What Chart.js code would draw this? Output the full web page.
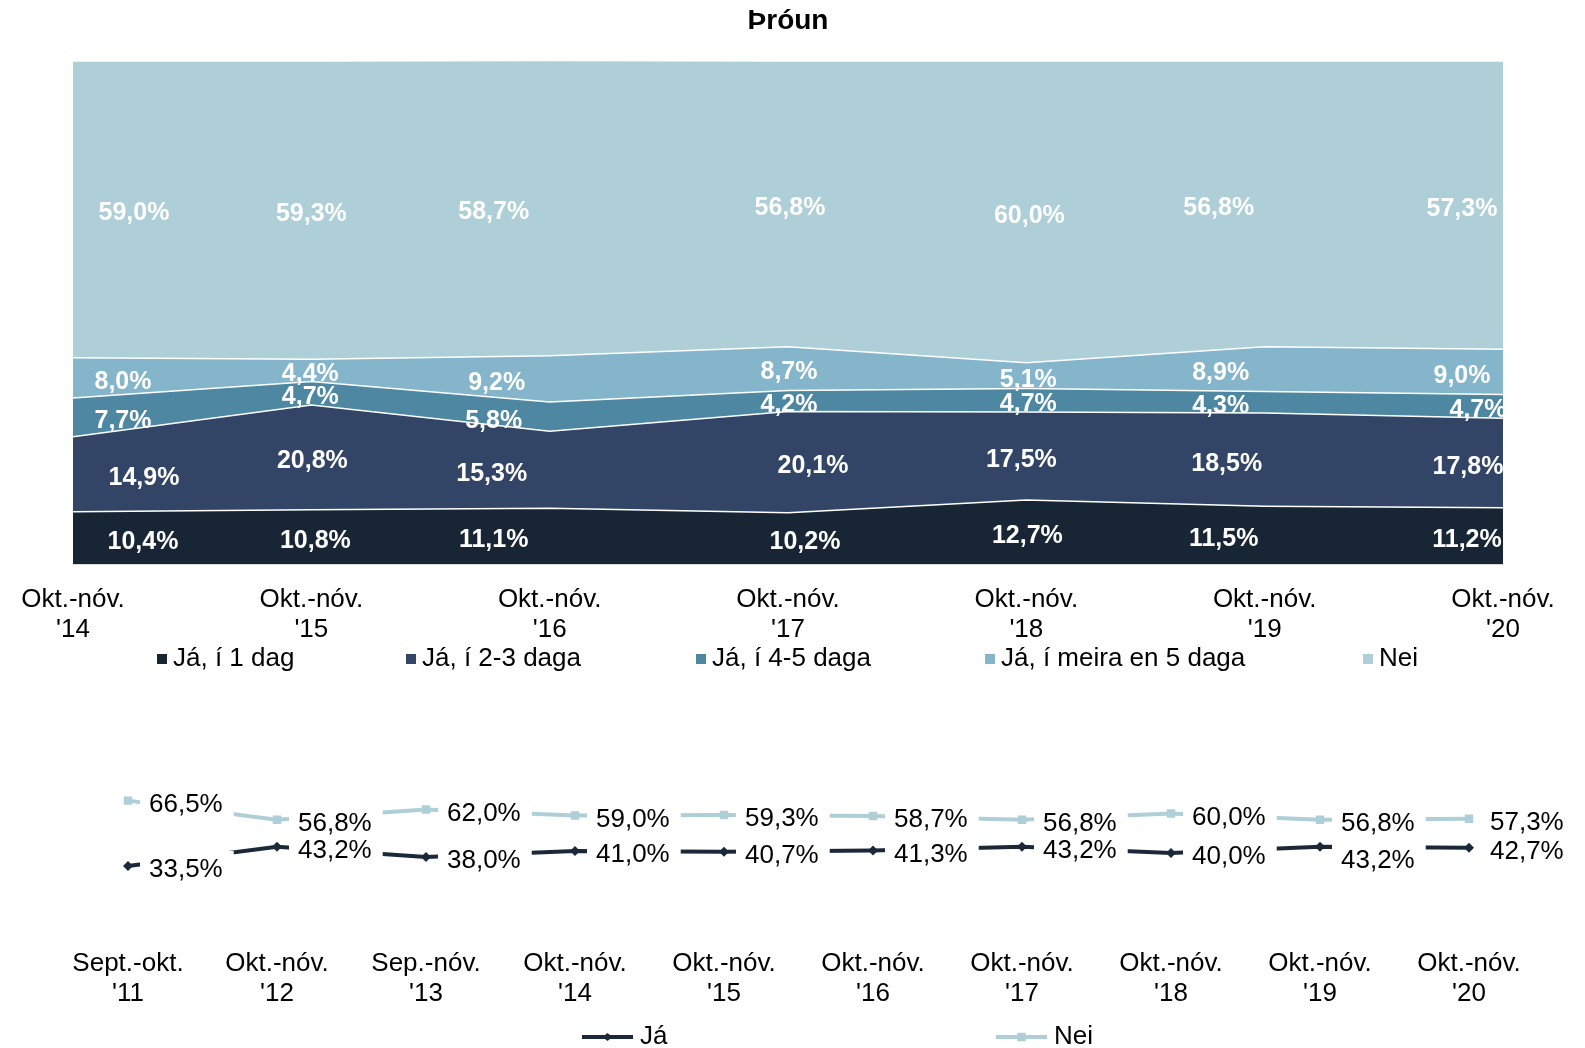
<!DOCTYPE html>
<html>
<head>
<meta charset="utf-8">
<script src="https://cdn.jsdelivr.net/npm/chart.js@4.4.0/dist/chart.umd.min.js"></script>
<style>
  html, body { margin: 0; padding: 0; background: #ffffff; }
  #wrap { position: relative; width: 1585px; height: 1048px; overflow: hidden; }
  #c1 { position: absolute; left: 0; top: 0; }
  #c2 { position: absolute; left: 0; top: 700px; }
</style>
</head>
<body>
<div id="wrap">
  <canvas id="c1" width="1585" height="700"></canvas>
  <canvas id="c2" width="1585" height="348"></canvas>
</div>
<script>
// ---------- DATA: top stacked area chart ----------
const topCategories = [
  ["Okt.-nóv.", "'14"], ["Okt.-nóv.", "'15"], ["Okt.-nóv.", "'16"], ["Okt.-nóv.", "'17"],
  ["Okt.-nóv.", "'18"], ["Okt.-nóv.", "'19"], ["Okt.-nóv.", "'20"]
];
const topSeriesNames = ["Já, í 1 dag", "Já, í 2-3 daga", "Já, í 4-5 daga", "Já, í meira en 5 daga", "Nei"];
const ja1Dag    = [10.4, 10.8, 11.1, 10.2, 12.7, 11.5, 11.2];
const ja23Daga  = [14.9, 20.8, 15.3, 20.1, 17.5, 18.5, 17.8];
const ja45Daga  = [7.7, 4.7, 5.8, 4.2, 4.7, 4.3, 4.7];
const jaMeira5  = [8.0, 4.4, 9.2, 8.7, 5.1, 8.9, 9.0];
const neiTop    = [59.0, 59.3, 58.7, 56.8, 60.0, 56.8, 57.3];

// ---------- DATA: bottom line chart ----------
const lineCategories = [
  ["Sept.-okt.", "'11"], ["Okt.-nóv.", "'12"], ["Sep.-nóv.", "'13"], ["Okt.-nóv.", "'14"],
  ["Okt.-nóv.", "'15"], ["Okt.-nóv.", "'16"], ["Okt.-nóv.", "'17"], ["Okt.-nóv.", "'18"],
  ["Okt.-nóv.", "'19"], ["Okt.-nóv.", "'20"]
];
const lineSeriesNames = ["Já", "Nei"];
const jaLine  = [33.5, 43.2, 38.0, 41.0, 40.7, 41.3, 43.2, 40.0, 43.2, 42.7];
const neiLine = [66.5, 56.8, 62.0, 59.0, 59.3, 58.7, 56.8, 60.0, 56.8, 57.3];

// ---------- STYLES ----------
const FONT = "'Liberation Sans', Arial, sans-serif";
const topColors = ["#172534", "#324566", "#4d87a1", "#84b5cb", "#aecfd8"];
const jaColor = "#1a2839";
const neiColor = "#aecfd8";
// horizontal label offsets (px) in the area chart, per series / category
const topLabelDX = [
  [70, 4, -56, 17, 1, -41, -36],
  [71, 1, -58, 25, -5, -38, -35],
  [50, -1, -56, 1, 2, -44, -25],
  [50, -1, -53, 1, 2, -44, -41],
  [61, 0, -56, 2, 3, -46, -41]
];
const topLegendX = [157, 406, 696, 985, 1363];
const lineLabelDY = [[0, 0, 0, 0, 0, 0, 0, 0, 10, 0], [0, 0, 0, 0, 0, 0, 0, 0, 0, 0]];
const lineLegendX = [582, 996];

Chart.defaults.font.family = FONT;
Chart.defaults.color = "#000";

const fmt = v => v.toFixed(1).replace('.', ',') + '%';

// ---------- plugins ----------
const topLabels = {
  id: 'topLabels',
  afterDatasetsDraw(chart) {
    const ctx = chart.ctx, a = chart.chartArea;
    ctx.save();
    ctx.beginPath();
    ctx.rect(a.left, a.top, a.right - a.left, a.bottom - a.top);
    ctx.clip();
    ctx.font = "bold 25px " + FONT;
    ctx.fillStyle = "#ffffff";
    ctx.textAlign = "center";
    ctx.textBaseline = "middle";
    chart.data.datasets.forEach((ds, i) => {
      const meta = chart.getDatasetMeta(i);
      const prev = i > 0 ? chart.getDatasetMeta(i - 1) : null;
      meta.data.forEach((pt, j) => {
        const yBot = prev ? prev.data[j].y : a.bottom;
        ctx.fillText(fmt(ds.data[j]), pt.x + topLabelDX[i][j], (pt.y + yBot) / 2 + 4);
      });
    });
    ctx.restore();
  }
};

const topLegend = {
  id: 'topLegend',
  afterDraw(chart) {
    const ctx = chart.ctx;
    ctx.save();
    ctx.font = "26px " + FONT;
    ctx.textBaseline = "middle";
    ctx.textAlign = "left";
    chart.data.datasets.forEach((ds, i) => {
      const x = topLegendX[i], y = 659;
      ctx.fillStyle = ds.backgroundColor;
      ctx.fillRect(x, y - 5, 10, 10);
      ctx.fillStyle = "#000";
      ctx.fillText(ds.label, x + 16, y);
    });
    ctx.restore();
  }
};

function drawMarker(ctx, style, x, y, r, color) {
  ctx.fillStyle = color;
  ctx.beginPath();
  if (style === 'rectRot') {
    ctx.moveTo(x - r, y); ctx.lineTo(x, y - r * 0.8); ctx.lineTo(x + r, y); ctx.lineTo(x, y + r * 0.8);
  } else {
    const s = r * Math.SQRT1_2;
    ctx.rect(x - s, y - s, 2 * s, 2 * s);
  }
  ctx.closePath();
  ctx.fill();
}

const lineLabels = {
  id: 'lineLabels',
  afterDatasetsDraw(chart) {
    const ctx = chart.ctx;
    ctx.save();
    ctx.font = "26px " + FONT;
    ctx.textBaseline = "middle";
    ctx.textAlign = "left";
    const items = [];
    chart.data.datasets.forEach((ds, i) => {
      const meta = chart.getDatasetMeta(i);
      meta.data.forEach((pt, j) => {
        const t = fmt(ds.data[j]);
        items.push({ t, x: pt.x + 21, y: pt.y + 4 + lineLabelDY[i][j], w: ctx.measureText(t).width });
      });
    });
    ctx.fillStyle = "#ffffff";
    items.forEach(it => ctx.fillRect(it.x - 9, it.y - 19, it.w + 20, 38));
    ctx.fillStyle = "#000";
    items.forEach(it => ctx.fillText(it.t, it.x, it.y));
    ctx.restore();
  }
};

const lineLegend = {
  id: 'lineLegend',
  afterDraw(chart) {
    const ctx = chart.ctx;
    ctx.save();
    ctx.font = "26px " + FONT;
    ctx.textBaseline = "middle";
    ctx.textAlign = "left";
    chart.data.datasets.forEach((ds, i) => {
      const x = lineLegendX[i], y = 337;
      ctx.strokeStyle = ds.borderColor;
      ctx.lineWidth = 4;
      ctx.beginPath(); ctx.moveTo(x, y); ctx.lineTo(x + 51, y); ctx.stroke();
      drawMarker(ctx, ds.pointStyle, x + 25.5, y, ds.pointRadius, ds.borderColor);
      ctx.fillStyle = "#000";
      ctx.fillText(ds.label, x + 58, y);
    });
    ctx.restore();
  }
};

// ---------- top chart ----------
const topSeries = [ja1Dag, ja23Daga, ja45Daga, jaMeira5, neiTop];
new Chart(document.getElementById('c1'), {
  type: 'line',
  data: {
    labels: topCategories,
    datasets: topSeries.map((d, i) => ({
      label: topSeriesNames[i],
      data: d,
      backgroundColor: topColors[i],
      borderColor: "#ffffff",
      borderWidth: 1.5,
      fill: i === 0 ? 'origin' : '-1',
      pointRadius: 0,
      tension: 0
    }))
  },
  options: {
    responsive: false,
    animation: false,
    events: [],
    layout: { padding: { left: 73, right: 82, top: 0, bottom: 34 } },
    plugins: {
      legend: { display: false },
      tooltip: { enabled: false },
      title: {
        display: true, text: 'Þróun', color: '#000',
        font: { size: 28, weight: 'bold', lineHeight: 1.2 },
        padding: { top: 4, bottom: 23.4 }
      }
    },
    scales: {
      x: {
        offset: false,
        grid: { display: false, drawTicks: false },
        border: { display: true, color: '#d9d9d9', width: 1 },
        ticks: { color: '#000', font: { size: 26, lineHeight: 1.1538 }, padding: 21, maxRotation: 0, autoSkip: false }
      },
      y: { display: false, stacked: true, min: 0, max: 100 }
    }
  },
  plugins: [topLabels, topLegend]
});

// ---------- bottom chart ----------
new Chart(document.getElementById('c2'), {
  type: 'line',
  data: {
    labels: lineCategories,
    datasets: [
      { label: lineSeriesNames[0], data: jaLine, borderColor: jaColor, backgroundColor: jaColor,
        borderWidth: 4, pointStyle: 'rectRot', pointRadius: 5, pointBorderWidth: 0, fill: false, tension: 0 },
      { label: lineSeriesNames[1], data: neiLine, borderColor: neiColor, backgroundColor: neiColor,
        borderWidth: 4, pointStyle: 'rect', pointRadius: 6, pointBorderWidth: 0, fill: false, tension: 0 }
    ]
  },
  options: {
    responsive: false,
    animation: false,
    events: [],
    layout: { padding: { left: 53.5, right: 41.5, top: 34.3, bottom: 23.1 } },
    plugins: { legend: { display: false }, tooltip: { enabled: false } },
    scales: {
      x: {
        offset: true,
        grid: { display: false, drawTicks: false },
        border: { display: false },
        ticks: { color: '#000', font: { size: 26, lineHeight: 1.1538 }, padding: 16.3, maxRotation: 0, autoSkip: false }
      },
      y: { display: false, min: 0, max: 100 }
    }
  },
  plugins: [lineLabels, lineLegend]
});
</script>
</body>
</html>
